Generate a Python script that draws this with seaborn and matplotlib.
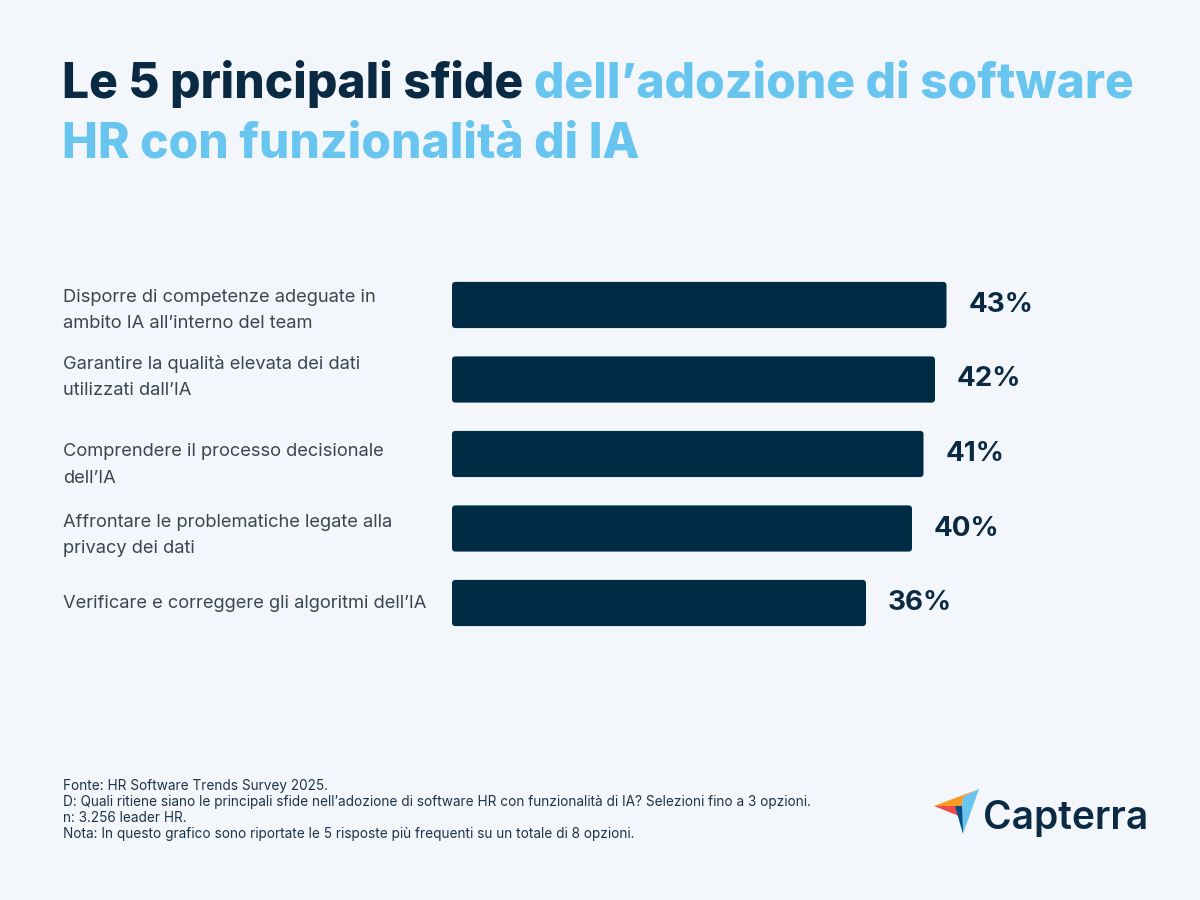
import matplotlib
matplotlib.use("Agg")
import matplotlib.pyplot as plt
import seaborn as sns
import pandas as pd
from matplotlib.patches import FancyBboxPatch, Polygon

categories = [
    "Disporre di competenze adeguate in\nambito IA all’interno del team",
    "Garantire la qualità elevata dei dati\nutilizzati dall’IA",
    "Comprendere il processo decisionale\ndell’IA",
    "Affrontare le problematiche legate alla\nprivacy dei dati",
    "Verificare e correggere gli algoritmi dell’IA",
]
values = [43, 42, 41, 40, 36]
value_labels = ["43%", "42%", "41%", "40%", "36%"]

title_dark = "Le 5 principali sfide "
title_light_1 = "dell’adozione di software"
title_light_2 = "HR con funzionalità di IA"
notes = [
    "Fonte: HR Software Trends Survey 2025.",
    "D: Quali ritiene siano le principali sfide nell’adozione di software HR con funzionalità di IA? Selezioni fino a 3 opzioni.",
    "n: 3.256 leader HR.",
    "Nota: In questo grafico sono riportate le 5 risposte più frequenti su un totale di 8 opzioni.",
]

BG = "#F3F7FC"
NAVY = "#002B45"
DARK = "#0A2A43"
LIGHT = "#67C5EF"
GREY = "#3B4651"

sns.set_theme(style="white")
plt.rcParams["font.family"] = ["Inter", "DejaVu Sans"]

W, H = 1200, 900
fig = plt.figure(figsize=(12, 9), dpi=100, facecolor=BG)

def fx(x): return x / W
def fy(y): return 1 - y / H

# axes: x=0 at 452px, 11.5 px per unit; rows centered at 305..603 (74.5 px pitch)
xmax = 60
ax_w = 11.5 * xmax
top_px = 305 - 37.25
bot_px = 603 + 37.25
ax = fig.add_axes([fx(452), fy(bot_px), ax_w / W, (bot_px - top_px) / H])
ax.set_facecolor("none")

df = pd.DataFrame({"cat": categories, "val": values})
sns.barplot(data=df, y="cat", x="val", orient="h", color=NAVY, width=0.62,
            saturation=1, ax=ax)
ax.set_xlim(0, xmax)
ax.set_ylim(4.5, -0.5)

# rounded bars
px_x, px_y = 11.5, 74.5
r = 3.5
for p in list(ax.patches):
    x0, y0 = p.get_x(), p.get_y()
    w, h = p.get_width(), p.get_height()
    p.set_visible(False)
    fb = FancyBboxPatch((x0, y0), w, h,
                        boxstyle=f"round,pad=0,rounding_size={r / px_x}",
                        mutation_aspect=px_x / px_y,
                        facecolor=NAVY, edgecolor="none")
    ax.add_patch(fb)

for i, (v, lab) in enumerate(zip(values, value_labels)):
    ax.text(v + 22 / px_x, i, lab, ha="left", va="center", fontsize=20,
            fontweight="bold", color=DARK)

ax.set_xticks([])
ax.set_yticks([])
ax.set_xlabel("")
ax.set_ylabel("")
for s in ax.spines.values():
    s.set_visible(False)

# category labels (left aligned)
label_centers_px = [310.5, 377, 465, 535.5, 603]
for c, ypx in zip(categories, label_centers_px):
    fig.text(fx(63), fy(ypx), c, ha="left", va="center", fontsize=13.2,
             color=GREY, linespacing=1.72)

# title
fig.canvas.draw()
rend = fig.canvas.get_renderer()
t1 = fig.text(fx(62), fy(98), title_dark, fontsize=34.5, fontweight="heavy",
              color=DARK, va="baseline", ha="left")
bb = t1.get_window_extent(renderer=rend)
fig.text(bb.x1 / W, fy(98), title_light_1, fontsize=34.5, fontweight="heavy",
         color=LIGHT, va="baseline", ha="left")
fig.text(fx(62), fy(157), title_light_2, fontsize=34.5, fontweight="heavy",
         color=LIGHT, va="baseline", ha="left")

# notes
for k, n in enumerate(notes):
    fig.text(fx(63), fy(786 + k * 16), n, fontsize=9.8, color="#1E3348",
             va="center", ha="left")

# Capterra logo
icon = [
    ([(934, 806), (979, 789), (963, 797), (962, 807)], "#F99B25"),
    ([(934, 806), (955, 806), (959, 816)], "#EF4B4B"),
    ([(955, 806), (963, 806), (963, 834)], "#044D80"),
    ([(979, 789), (963, 797), (962, 806), (963, 834)], "#68C5EF"),
]
for pts, col in icon:
    fig.patches.append(Polygon([(fx(a), fy(b)) for a, b in pts], closed=True,
                               transform=fig.transFigure, facecolor=col,
                               edgecolor="none"))
fig.text(fx(983), fy(829), "Capterra", fontsize=28, fontweight="semibold",
         color="#0B2B45", va="baseline", ha="left")

fig.savefig("out.png", dpi=100, facecolor=BG)
